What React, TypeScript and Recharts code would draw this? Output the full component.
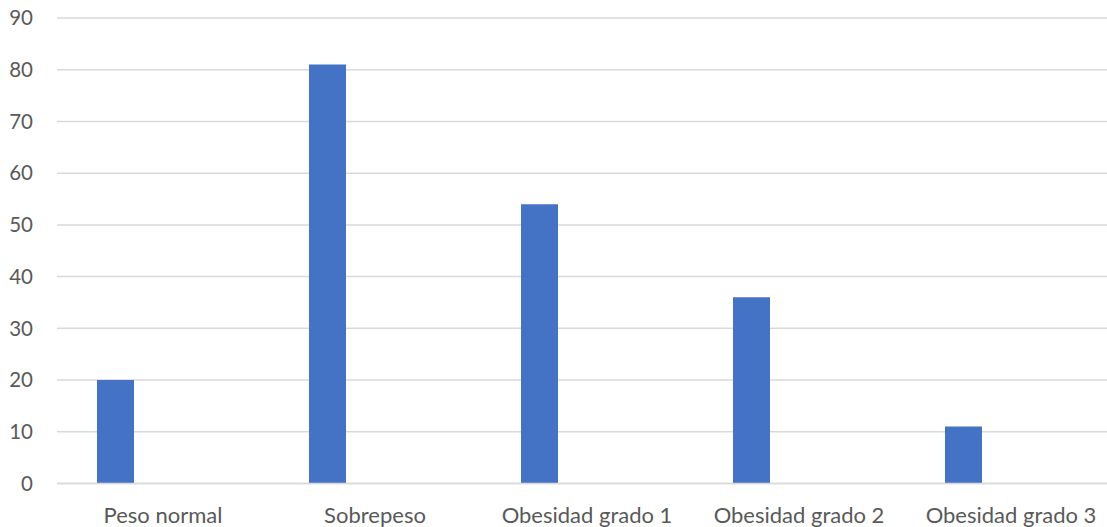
import React from 'react';
import { BarChart, Bar, XAxis, YAxis, CartesianGrid } from 'recharts';

const categories = ['Peso normal', 'Sobrepeso', 'Obesidad grado 1', 'Obesidad grado 2', 'Obesidad grado 3'];
const counts = [20, 81, 54, 36, 11];
// two empty series reserve their slots, as in the original workbook layout
const emptySeries = [null, null, null, null, null];
const yTicks = [0, 10, 20, 30, 40, 50, 60, 70, 80, 90];

const data = categories.map((name, i) => ({
  name,
  count: counts[i],
  s2: emptySeries[i],
  s3: emptySeries[i],
}));

const font = 'Lato, sans-serif';
const xTickStyle = { fill: '#595959', fontSize: 22, fontFamily: font };
const yTickStyle = { fill: '#595959', fontSize: 20.5, fontFamily: font };

const App: React.FC = () => {
  return (
    <div style={{ position: 'absolute', left: 0, top: 0, width: 1107, height: 527, overflow: 'hidden', background: '#fff' }}>
      <BarChart
        width={1117}
        height={527}
        data={data}
        margin={{ top: 18, right: 0, bottom: 0, left: 0 }}
        barSize={37}
        barGap={10.5}
      >
        <CartesianGrid vertical={false} stroke="#d9d9d9" strokeWidth={1.5} />
        <XAxis
          dataKey="name"
          height={43.5}
          axisLine={{ stroke: '#d9d9d9', strokeWidth: 1.5 }}
          tickLine={false}
          tickSize={0}
          tickMargin={24}
          tick={xTickStyle}
          interval={0}
        />
        <YAxis
          width={57}
          domain={[0, 90]}
          ticks={yTicks}
          axisLine={false}
          tickLine={false}
          tickSize={0}
          tickMargin={24}
          tick={yTickStyle}
        />
        <Bar dataKey="count" fill="#4472C4" isAnimationActive={false} />
        <Bar dataKey="s2" fill="#ED7D31" isAnimationActive={false} />
        <Bar dataKey="s3" fill="#A5A5A5" isAnimationActive={false} />
      </BarChart>
    </div>
  );
};

export default App;
